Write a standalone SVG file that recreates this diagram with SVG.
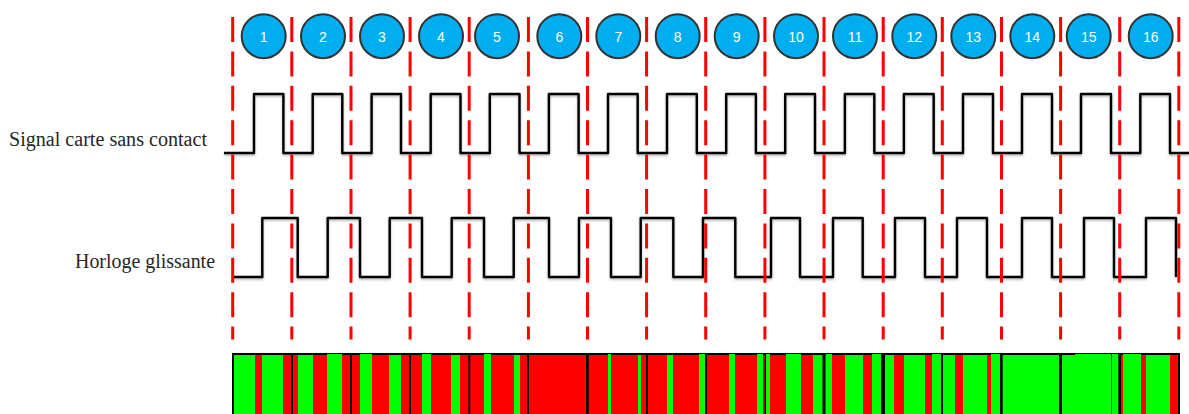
<svg xmlns="http://www.w3.org/2000/svg" width="1189" height="414" viewBox="0 0 1189 414">
<defs>
<style>
.wave{fill:none;stroke:#000;stroke-width:2.4;stroke-linejoin:round;filter:url(#sh)}
.dash{stroke:#f00;stroke-width:3;stroke-dasharray:25 9.4;fill:none}
.c{fill:#00aeef;stroke:#333;stroke-width:2}
.n{font:14px "Liberation Sans",Arial,sans-serif;fill:#fff;text-anchor:middle}
.lab{font:20px "Liberation Serif","Times New Roman",serif;fill:#262626}
.g{fill:#0f0}.r{fill:#f00}.k{fill:#000}
</style>
<filter id="sh" x="-2%" y="-10%" width="104%" height="125%"><feDropShadow dx="0" dy="1.5" stdDeviation="1" flood-color="#000" flood-opacity="0.3"/></filter>
</defs>
<g id="label-signal"><text class="lab" x="9" y="146" textLength="198" lengthAdjust="spacingAndGlyphs">Signal carte sans contact</text></g>
<g id="label-horloge"><text class="lab" x="75" y="268" textLength="140" lengthAdjust="spacingAndGlyphs">Horloge glissante</text></g>
<g id="bar">
<rect class="k" x="232" y="353" width="948" height="61"/>
<g class="g">
<rect x="234" y="355" width="21" height="59"/><rect x="262" y="355" width="21" height="59"/><rect x="298" y="355" width="15" height="59"/><rect x="327" y="354" width="15" height="60"/><rect x="360" y="354" width="12" height="60"/><rect x="389" y="355" width="12" height="59"/><rect x="422" y="354" width="9" height="60"/><rect x="451" y="355" width="9" height="59"/><rect x="484" y="354" width="7" height="60"/><rect x="514" y="355" width="6" height="59"/><rect x="608" y="354" width="3" height="60"/><rect x="638" y="355" width="3" height="59"/><rect x="667" y="355" width="6" height="59"/><rect x="699" y="354" width="6" height="60"/><rect x="729" y="354" width="6" height="60"/><rect x="757" y="354" width="6" height="60"/><rect x="766" y="354" width="4" height="60"/><rect x="786" y="354" width="15" height="60"/><rect x="813" y="355" width="9.5" height="59"/><rect x="826" y="354" width="6" height="60"/><rect x="845" y="355" width="18" height="59"/><rect x="872" y="354" width="9" height="60"/><rect x="885" y="355" width="9" height="59"/><rect x="904" y="355" width="21" height="59"/><rect x="932" y="354" width="9" height="60"/><rect x="943" y="355" width="12" height="59"/><rect x="963" y="355" width="24" height="59"/><rect x="991" y="354" width="9" height="60"/><rect x="1002.7" y="355" width="56.3" height="59"/><rect x="1062" y="355" width="13" height="59"/><rect x="1075" y="354" width="36" height="60"/><rect x="1112" y="354" width="6.3" height="60"/><rect x="1123" y="354" width="18" height="60"/><rect x="1146" y="355" width="24" height="59"/>
</g>
<g class="r">
<rect x="255" y="355" width="7" height="59"/><rect x="283" y="355" width="8" height="59"/><rect x="293" y="355" width="5" height="59"/><rect x="313" y="355" width="14" height="59"/><rect x="342" y="355" width="8" height="59"/><rect x="352" y="355" width="8" height="59"/><rect x="372" y="355" width="17" height="59"/><rect x="401" y="355" width="8" height="59"/><rect x="411" y="355" width="11" height="59"/><rect x="431" y="355" width="20" height="59"/><rect x="460" y="355" width="8.3" height="59"/><rect x="470.3" y="355" width="13.7" height="59"/><rect x="491" y="355" width="23" height="59"/><rect x="520" y="355" width="7" height="59"/><rect x="529" y="355" width="57" height="59"/><rect x="588.7" y="355" width="19.3" height="59"/><rect x="611" y="355" width="27" height="59"/><rect x="641" y="355" width="5" height="59"/><rect x="648" y="355" width="19" height="59"/><rect x="673" y="355" width="26" height="59"/><rect x="707" y="355" width="22" height="59"/><rect x="735" y="355" width="22" height="59"/><rect x="763" y="355" width="1.7" height="59"/><rect x="770" y="355" width="16" height="59"/><rect x="801" y="355" width="12" height="59"/><rect x="825" y="355" width="1" height="59"/><rect x="832" y="355" width="13" height="59"/><rect x="863" y="355" width="9" height="59"/><rect x="894" y="355" width="10" height="59"/><rect x="925" y="355" width="7" height="59"/><rect x="955" y="355" width="8" height="59"/><rect x="987" y="355" width="4" height="59"/><rect x="1111" y="355" width="1" height="59"/><rect x="1121" y="355" width="2" height="59"/><rect x="1141" y="355" width="5" height="59"/><rect x="1170" y="355" width="8" height="59"/>
</g>
</g>
<g id="connectors">
<path id="signal" class="wave" d="M224 153H254V94H283.4V153H312.7V94H342.3V153H371.6V94H401V153H430.7V94H460.5V153H489.8V94H519.5V153H548.9V94H578.6V153H608V94H637.7V153H667V94H696.8V153H726.2V94H755.9V153H785.2V94H815V153H844.9V94H874.3V153H903.9V94H933.7V153H963V94H993V153H1022V94H1052V153H1081V94H1111V153H1140.3V94H1170V153H1189"/>
<path id="horloge" class="wave" d="M232.7 277H262.3V218H297.7V277H327.7V218H360V277H389.7V218H422V277H451.7V218H484V277H513.7V218H549V277H579V218H611V277H640.7V218H673.3V277H703V218H735.3V277H771V218H800V277H833V218H862.7V277H895V218H925V277H957V218H987V277H1022V218H1052V277H1084V218H1114V277H1146V218H1176V277"/>
<g>
<line class="dash" x1="232.7" y1="17" x2="232.7" y2="339.5"/><line class="dash" x1="291.8" y1="17" x2="291.8" y2="339.5"/><line class="dash" x1="351" y1="17" x2="351" y2="339.5"/><line class="dash" x1="410.1" y1="17" x2="410.1" y2="339.5"/><line class="dash" x1="469.2" y1="17" x2="469.2" y2="339.5"/><line class="dash" x1="528.4" y1="17" x2="528.4" y2="339.5"/><line class="dash" x1="587.5" y1="17" x2="587.5" y2="339.5"/><line class="dash" x1="646.6" y1="17" x2="646.6" y2="339.5"/><line class="dash" x1="705.7" y1="17" x2="705.7" y2="339.5"/><line class="dash" x1="764.9" y1="17" x2="764.9" y2="339.5"/><line class="dash" x1="824" y1="17" x2="824" y2="339.5"/><line class="dash" x1="883.2" y1="17" x2="883.2" y2="339.5"/><line class="dash" x1="942.3" y1="17" x2="942.3" y2="339.5"/><line class="dash" x1="1001.5" y1="17" x2="1001.5" y2="339.5"/><line class="dash" x1="1060.6" y1="17" x2="1060.6" y2="339.5"/><line class="dash" x1="1119.7" y1="17" x2="1119.7" y2="339.5"/><line class="dash" x1="1178.8" y1="17" x2="1178.8" y2="339.5"/>
</g>
</g>
<g id="n1"><circle class="c" cx="263.7" cy="36.2" r="22" /><text class="n" x="263.7" y="41.5">1</text></g>
<g id="n2"><circle class="c" cx="323" cy="36.2" r="22"/><text class="n" x="323" y="41.5">2</text></g>
<g id="n3"><circle class="c" cx="382" cy="36.2" r="22"/><text class="n" x="382" y="41.5">3</text></g>
<g id="n4"><circle class="c" cx="441" cy="36.2" r="22"/><text class="n" x="441" y="41.5">4</text></g>
<g id="n5"><circle class="c" cx="497" cy="36.2" r="22"/><text class="n" x="497" y="41.5">5</text></g>
<g id="n6"><circle class="c" cx="559.3" cy="36.2" r="22"/><text class="n" x="559.3" y="41.5">6</text></g>
<g id="n7"><circle class="c" cx="618.3" cy="36.2" r="22"/><text class="n" x="618.3" y="41.5">7</text></g>
<g id="n8"><circle class="c" cx="677.7" cy="36.2" r="22"/><text class="n" x="677.7" y="41.5">8</text></g>
<g id="n9"><circle class="c" cx="736.7" cy="36.2" r="22"/><text class="n" x="736.7" y="41.5">9</text></g>
<g id="n10"><circle class="c" cx="796" cy="36.2" r="22"/><text class="n" x="796" y="41.5">10</text></g>
<g id="n11"><circle class="c" cx="855" cy="36.2" r="22"/><text class="n" x="855" y="41.5">11</text></g>
<g id="n12"><circle class="c" cx="914.3" cy="36.2" r="22"/><text class="n" x="914.3" y="41.5">12</text></g>
<g id="n13"><circle class="c" cx="973.3" cy="36.2" r="22"/><text class="n" x="973.3" y="41.5">13</text></g>
<g id="n14"><circle class="c" cx="1032.3" cy="36.2" r="22"/><text class="n" x="1032.3" y="41.5">14</text></g>
<g id="n15"><circle class="c" cx="1088.7" cy="36.2" r="22"/><text class="n" x="1088.7" y="41.5">15</text></g>
<g id="n16"><circle class="c" cx="1150.7" cy="36.2" r="22"/><text class="n" x="1150.7" y="41.5">16</text></g>
</svg>
